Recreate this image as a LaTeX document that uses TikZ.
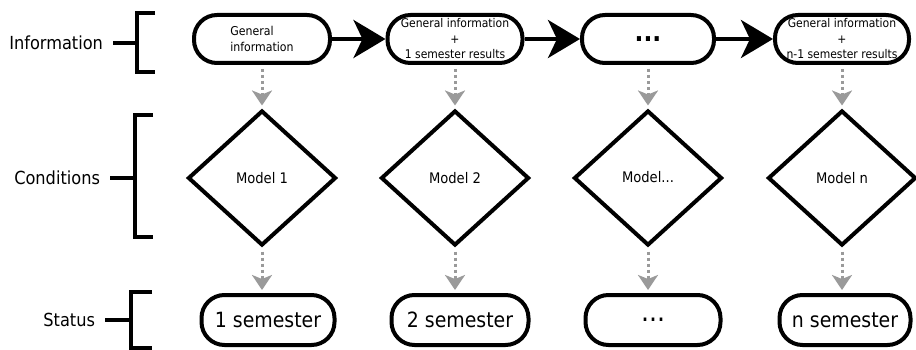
\documentclass[tikz,border=0pt]{standalone}
\usepackage{fontspec}
\setmainfont{DejaVu Sans Condensed}
\usetikzlibrary{shapes.geometric,arrows.meta}
\definecolor{dotgray}{HTML}{9A9A9A}

\begin{document}
\begin{tikzpicture}[x=1pt,y=-1pt,
		stadium/.style={draw,line width=4pt,rounded corners=23pt,minimum height=48pt,inner sep=1pt,align=center},
		model/.style={draw,diamond,line width=4pt,minimum width=148pt,minimum height=135pt,inner sep=0pt,font=\fontsize{14.6}{17}\selectfont},
		lbl/.style={anchor=east,inner sep=0pt,outer sep=10pt,font=\fontsize{18}{21}\selectfont},
		brack/.style={line width=4pt},
		flow/.style={line width=4pt,-{Stealth[length=32pt,width=38pt,inset=9pt]}},
		dotflow/.style={dotgray,line width=3pt,dash pattern=on 3pt off 3pt,-{Stealth[length=15pt,width=20pt,inset=4pt]},shorten <=4pt,shorten >=3pt}]
		\useasboundingbox (0,0) rectangle (916,350);
		% row labels and brackets
		\node[lbl] (lblinfo) at (113,43) {Information};
		\node[lbl] (lblcond) at (110,178) {Conditions};
		\node[lbl] (lblstat) at (105,320) {Status};
		\coordinate (binfo) at (137,43);
		\coordinate (bcond) at (135,178);
		\coordinate (bstat) at (131,320);
		\draw[brack] (lblinfo.east) -- (binfo);
		\draw[brack] (lblcond.east) -- (bcond);
		\draw[brack] (lblstat.east) -- (bstat);
		\draw[brack] (155,13) -- (137,13) -- (137,72) -- (155,72);
		\draw[brack] (153,115) -- (135,115) -- (135,237) -- (153,237);
		\draw[brack] (152,292) -- (131,292) -- (131,348) -- (152,348);
		% information
		\node[stadium,minimum width=136pt,align=left,font=\fontsize{12.2}{15.5}\selectfont] (info1) at (262,39) {General\\ information};
		\node[stadium,minimum width=135pt,font=\fontsize{12}{15.5}\selectfont] (info2) at (455,39) {General information\\ +\\ 1 semester results};
		\node[stadium,minimum width=132pt,font=\fontsize{26}{26}\selectfont\bfseries] (info3) at (648,39) {\raisebox{-4pt}{...}};
		\node[stadium,minimum width=134pt,font=\fontsize{12}{15.5}\selectfont] (info4) at (842,39) {General information\\ +\\ n-1 semester results};
		\draw[flow] (info1) -- (info2);
		\draw[flow] (info2) -- (info3);
		\draw[flow] (info3) -- (info4);
		% models
		\node[model] (model1) at (262,178) {Model 1};
		\node[model] (model2) at (455,178) {Model 2};
		\node[model] (model3) at (648,178) {\raisebox{2pt}{Model...}};
		\node[model] (model4) at (842,178) {Model n};
		% status
		\node[stadium,minimum width=133pt,minimum height=50pt,font=\fontsize{21}{24}\selectfont] (stat1) at (268,320) {1 semester};
		\node[stadium,minimum width=137pt,minimum height=50pt,font=\fontsize{21}{24}\selectfont] (stat2) at (460,320) {2 semester};
		\node[stadium,minimum width=135pt,minimum height=50pt,font=\fontsize{28}{28}\selectfont] (stat3) at (653,320) {\raisebox{-3pt}{...}};
		\node[stadium,minimum width=131pt,minimum height=50pt,font=\fontsize{21}{24}\selectfont] (stat4) at (845,320) {n semester};
		\foreach \i in {1,...,4} {
			\draw[dotflow] (info\i.south) -- (info\i.south |- model\i.north);
			\draw[dotflow] (model\i.south) -- (model\i.south |- stat\i.north);
		}
	\end{tikzpicture}
\end{document}
